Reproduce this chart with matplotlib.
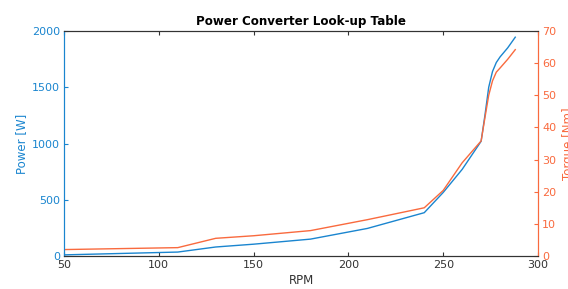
import numpy as np
import matplotlib
matplotlib.use("Agg")
import matplotlib.pyplot as plt

# data
rpm = [50, 110, 130, 150, 180, 210, 240, 250, 260, 270, 272, 274, 276, 278, 280, 284, 288]
power = [10, 35, 80, 105, 150, 245, 385, 565, 770, 1020, 1250, 1500, 1640, 1720, 1770, 1850, 1945]
torque = [2.0, 2.6, 5.5, 6.3, 7.9, 11.3, 15.0, 20.4, 29.0, 35.8, 43.0, 50.0, 54.5, 57.2, 58.5, 61.2, 64.2]

blue = '#1a85cf'
orange = '#f96a3e'
grey = '#333333'

plt.rcParams['font.family'] = 'DejaVu Sans'
fig = plt.figure(figsize=(5.68, 2.89), dpi=100)
ax = fig.add_axes([0.1127, 0.1142, 0.8345, 0.7785])
ax2 = ax.twinx()

ax.plot(rpm, power, color=blue, lw=1.0)
ax2.plot(rpm, torque, color=orange, lw=1.0)

ax.set_xlim(50, 300)
ax.set_ylim(0, 2000)
ax2.set_ylim(0, 70)
ax.set_xticks([50, 100, 150, 200, 250, 300])
ax.set_yticks([0, 500, 1000, 1500, 2000])
ax2.set_yticks(range(0, 71, 10))

ax.set_title("Power Converter Look-up Table", fontsize=8.6, fontweight='bold', pad=4)
ax.set_xlabel("RPM", fontsize=8.5, color=grey, labelpad=3)
ax.set_ylabel("Power [W]", fontsize=8.5, color=blue, labelpad=3)
ax2.set_ylabel("Torque [Nm]", fontsize=8.5, color=orange, labelpad=4)

ax.tick_params(axis='x', direction='in', length=3, labelsize=8, colors=grey, top=True, pad=3)
ax.tick_params(axis='y', direction='in', length=3, labelsize=8, colors=blue, pad=3)
ax2.tick_params(axis='y', direction='in', length=3, labelsize=8, colors=orange, pad=3)

for a in (ax, ax2):
    a.spines['top'].set_color(grey)
    a.spines['bottom'].set_color(grey)
    a.spines['left'].set_color(blue)
    a.spines['right'].set_color(orange)
    for s in a.spines.values():
        s.set_linewidth(0.8)

fig.savefig("out.png", dpi=100)
